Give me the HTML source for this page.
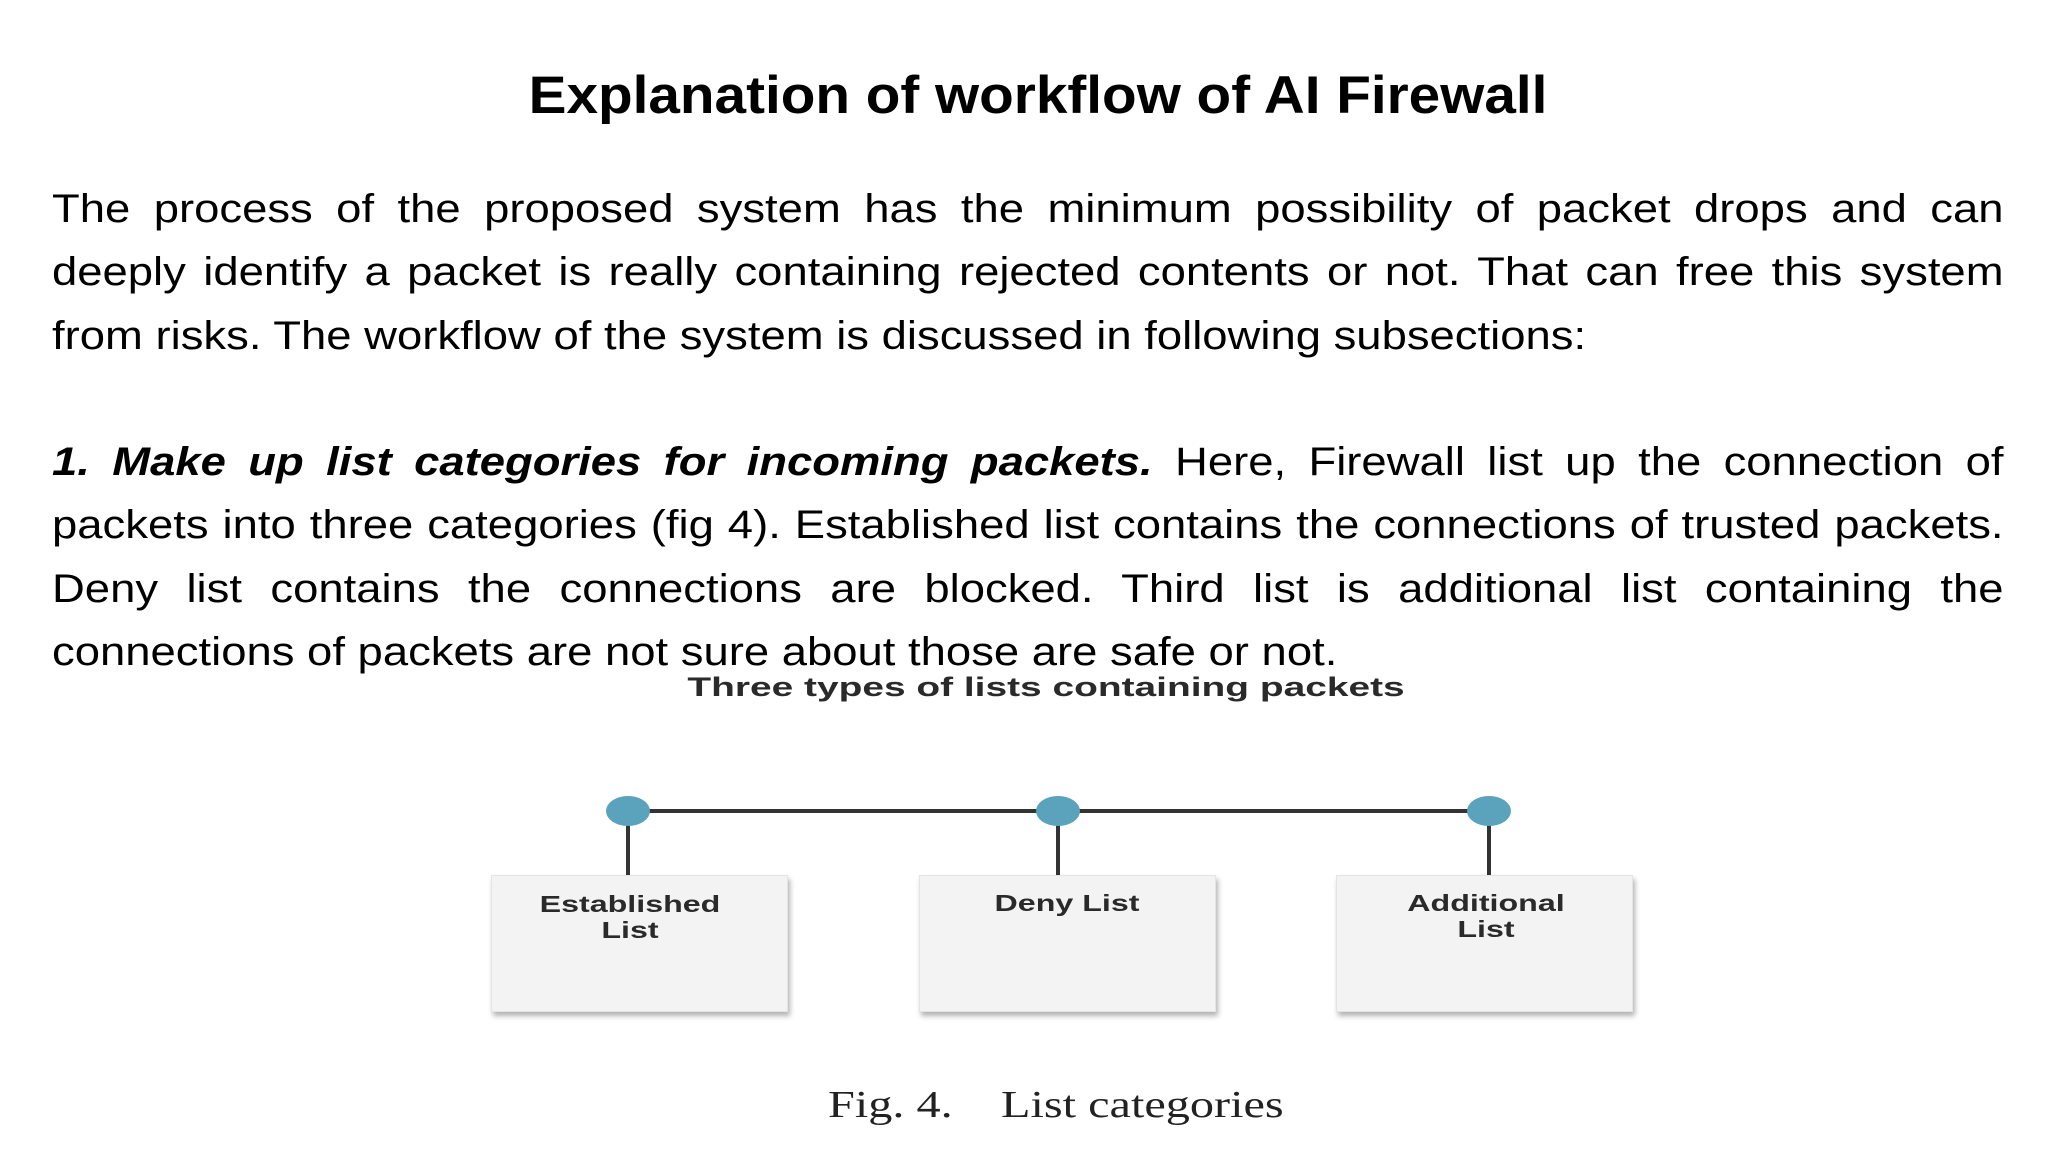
<!DOCTYPE html>
<html><head><meta charset="utf-8"><style>
html,body{margin:0;padding:0;background:#fff;}
body{width:2048px;height:1152px;position:relative;overflow:hidden;font-family:"Liberation Sans",Arial,sans-serif;color:#000;}
.title{position:absolute;left:0;width:2076px;top:65px;text-align:center;font-weight:bold;font-size:53px;transform:scaleX(1.07);transform-origin:1038px 0;}
.p{position:absolute;left:52px;width:1697px;font-size:39.5px;line-height:63.3px;transform:scaleX(1.15);transform-origin:0 0;}
.p .l{display:block;text-align:justify;text-align-last:justify;white-space:nowrap;}
.p .l.last{text-align-last:left;}
.sub{position:absolute;left:0;width:2092px;top:672px;text-align:center;font-size:27px;font-weight:bold;color:#2a2a2a;transform:scaleX(1.44);transform-origin:1046px 0;}
.box{position:absolute;top:875px;width:295px;height:135px;background:#f3f3f3;box-shadow:2px 4px 5px rgba(0,0,0,0.3);border:1px solid #e4e4e4;}
.lbl{position:absolute;font-size:23px;font-weight:bold;color:#2a2a2a;text-align:center;line-height:26px;width:300px;transform:scaleX(1.4);transform-origin:150px 0;}
.cap{position:absolute;left:828px;top:1083px;font-family:"Liberation Serif",serif;font-size:38px;color:#222;white-space:pre;transform:scaleX(1.27);transform-origin:0 0;}
</style></head><body>
<div class="title">Explanation of workflow of AI Firewall</div>
<div class="p" style="top:178px;">
<span class="l">The process of the proposed system has the minimum possibility of packet drops and can</span>
<span class="l">deeply identify a packet is really containing rejected contents or not. That can free this system</span>
<span class="l last">from risks. The workflow of the system is discussed in following subsections:</span>
</div>
<div class="p" style="top:431px;">
<span class="l"><b><i>1. Make up list categories for incoming packets.</i></b> Here, Firewall list up the connection of</span>
<span class="l">packets into three categories (fig 4). Established list contains the connections of trusted packets.</span>
<span class="l">Deny list contains the connections are blocked. Third list is additional list containing the</span>
<span class="l last">connections of packets are not sure about those are safe or not.</span>
</div>
<div class="sub">Three types of lists containing packets</div>
<svg style="position:absolute;left:0;top:0" width="2048" height="1152">
<line x1="628" y1="811" x2="1489" y2="811" stroke="#333" stroke-width="4"/>
<line x1="628" y1="811" x2="628" y2="877" stroke="#333" stroke-width="4"/>
<line x1="1058" y1="811" x2="1058" y2="877" stroke="#333" stroke-width="4"/>
<line x1="1489" y1="811" x2="1489" y2="877" stroke="#333" stroke-width="4"/>
<ellipse cx="628" cy="811" rx="22" ry="15" fill="#5ba3bd"/>
<ellipse cx="1058" cy="811" rx="22" ry="15" fill="#5ba3bd"/>
<ellipse cx="1489" cy="811" rx="22" ry="15" fill="#5ba3bd"/>
</svg>
<div class="box" style="left:491px;"></div>
<div class="box" style="left:919px;"></div>
<div class="box" style="left:1336px;"></div>
<div class="lbl" style="left:480px;top:891px;">Established<br>List</div>
<div class="lbl" style="left:917px;top:890px;">Deny List</div>
<div class="lbl" style="left:1336px;top:890px;">Additional<br>List</div>
<div class="cap">Fig. 4.    List categories</div>
</body></html>
